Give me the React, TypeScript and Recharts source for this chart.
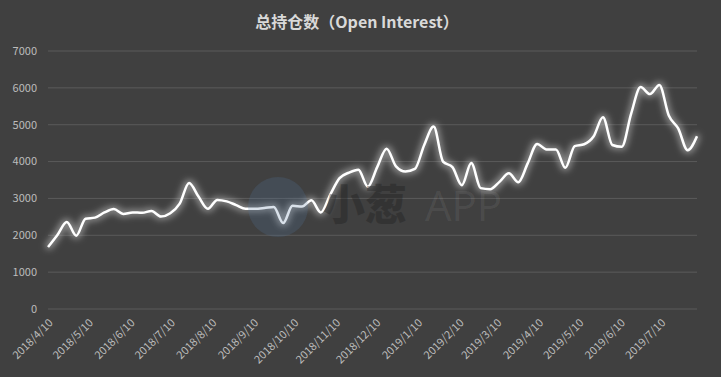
import { CartesianGrid, Line, LineChart, XAxis, YAxis } from 'recharts'

// weekly points starting 2018/4/10
const startDate = '2018/4/10'
const openInterest = [
  1680, 2010, 2360, 1990, 2450, 2480, 2620, 2710, 2580, 2620,
  2610, 2660, 2510, 2600, 2860, 3420, 3050, 2720, 2960, 2920,
  2820, 2720, 2720, 2740, 2770, 2330, 2800, 2780, 2950, 2620,
  3100, 3550, 3700, 3780, 3320, 3850, 4350, 3870, 3730, 3800,
  4450, 4950, 4000, 3850, 3360, 3960, 3280, 3250, 3450, 3680,
  3440, 3950, 4480, 4330, 4330, 3830, 4420, 4470, 4680, 5200,
  4450, 4400, 5300, 6020, 5830, 6080, 5250, 4900, 4310, 4690,
]
const tickLabels = [
  '2018/4/10', '2018/5/10', '2018/6/10', '2018/7/10', '2018/8/10', '2018/9/10',
  '2018/10/10', '2018/11/10', '2018/12/10', '2019/1/10', '2019/2/10', '2019/3/10',
  '2019/4/10', '2019/5/10', '2019/6/10', '2019/7/10',
]
const yTicks = [0, 1000, 2000, 3000, 4000, 5000, 6000, 7000]

const toUtc = (s: string) => {
  const [y, m, d] = s.split('/').map(Number)
  return Date.UTC(y, m - 1, d)
}
const dayOf = (s: string) => Math.round((toUtc(s) - toUtc(startDate)) / 86400000)

const xTicks = tickLabels.map(dayOf)
const data = openInterest.map((v, i) => ({ t: i * 7, v }))

const font = '"Noto Sans CJK SC", "Open Sans", sans-serif'

export default function App() {
  return (
    <div
      style={{
        position: 'absolute',
        left: 0,
        top: 0,
        width: 721,
        height: 377,
        background: '#404040',
        fontFamily: font,
        overflow: 'hidden',
      }}
    >
      <div
        style={{
          position: 'absolute',
          top: 9,
          left: 0,
          width: 714,
          textAlign: 'center',
          color: '#d9d9d9',
          fontSize: 16,
          fontWeight: 700,
        }}
      >
        总持仓数（Open Interest）
      </div>
      <LineChart
        width={721}
        height={377}
        data={data}
        margin={{ top: 51, right: 24, bottom: 0, left: 0 }}
      >
        <defs>
          <filter id='glow' filterUnits='userSpaceOnUse' x='0' y='0' width='721' height='377'>
            <feMorphology operator='dilate' radius='2' in='SourceAlpha' result='d' />
            <feGaussianBlur in='d' stdDeviation='3' result='b' />
            <feFlood floodColor='#cfcfcf' floodOpacity='0.5' />
            <feComposite in2='b' operator='in' result='g' />
            <feMerge>
              <feMergeNode in='g' />
              <feMergeNode in='SourceGraphic' />
            </feMerge>
          </filter>
        </defs>
        <CartesianGrid horizontal vertical={false} stroke='#5a5a5a' />
        <XAxis
          type='number'
          dataKey='t'
          domain={[0, (openInterest.length - 1) * 7]}
          ticks={xTicks}
          interval={0}
          tickFormatter={(t) => tickLabels[xTicks.indexOf(Number(t))]}
          angle={-45}
          textAnchor='end'
          height={68}
          tickLine={false}
          axisLine={false}
          tickSize={0}
          tickMargin={9}
          tick={{ fill: '#bcbcbc', fontSize: 11 }}
        />
        <YAxis
          domain={[0, 7000]}
          ticks={yTicks}
          width={48}
          tickLine={false}
          axisLine={false}
          tickSize={0}
          tickMargin={11}
          tick={{ fill: '#bcbcbc', fontSize: 11 }}
        />
        <Line
          type='monotone'
          dataKey='v'
          stroke='#ffffff'
          strokeWidth={2.5}
          dot={false}
          filter='url(#glow)'
          isAnimationActive={false}
        />
      </LineChart>
      <div style={{ position: 'absolute', left: 0, top: 0, width: 721, height: 377, pointerEvents: 'none' }}>
        <div
          style={{
            position: 'absolute',
            left: 248,
            top: 177,
            width: 60,
            height: 60,
            borderRadius: 30,
            background: 'rgba(80, 120, 160, 0.22)',
          }}
        />
        <div
          style={{
            position: 'absolute',
            left: 323,
            top: 176,
            fontSize: 42,
            fontWeight: 900,
            lineHeight: '52px',
            color: 'rgba(30, 30, 30, 0.4)',
          }}
        >
          小葱
        </div>
        <div
          style={{
            position: 'absolute',
            left: 425,
            top: 179,
            fontSize: 42,
            fontFamily: '"Open Sans", sans-serif',
            lineHeight: '52px',
            color: 'rgba(255, 255, 255, 0.08)',
          }}
        >
          APP
        </div>
      </div>
    </div>
  )
}
